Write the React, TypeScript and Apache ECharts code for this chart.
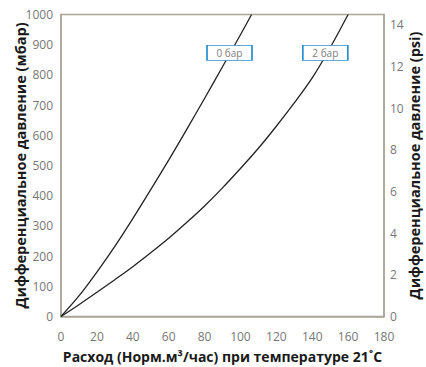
import React, { useEffect, useRef } from "react";
import * as echarts from "echarts";

const flow0 = [0, 10, 20, 30, 40, 50, 60, 70, 80, 90, 100, 106.2];
const dp0 = [0, 68, 147, 232, 324, 420, 518, 619, 722, 827, 933, 1000];
const flow2 = [0, 10, 20, 30, 40, 50, 60, 70, 80, 90, 100, 110, 120, 130, 140, 150, 160];
const dp2 = [0, 39, 80, 122, 165, 211, 259, 311, 366, 426, 490, 557, 630, 707, 790, 890, 1000];
const labelNames = ["0 бар", "2 бар"];
const labelCoords = [[93.9, 873], [147.3, 873]];
const xTicks = [0, 20, 40, 60, 80, 100, 120, 140, 160, 180];
const MBAR_PER_PSI = 68.9476;

const FONT = "'Open Sans', 'Noto Sans', sans-serif";

export default function App() {
  const ref = useRef<HTMLDivElement>(null);
  useEffect(() => {
    if (!ref.current) return;
    const chart = echarts.init(ref.current, null, { renderer: "svg" });
    const mk = (i: number) => ({
      symbol: "rect",
      symbolSize: [45, 15],
      itemStyle: { color: "#ffffff", borderColor: "#2a8fcf", borderWidth: 1 },
      label: {
        show: true,
        position: "inside",
        formatter: labelNames[i],
        color: "#808080",
        fontSize: 10,
        fontFamily: FONT,
      },
      data: [{ coord: labelCoords[i] }],
    });
    const labelStyle = { color: "#777777", fontSize: 12, fontFamily: FONT };
    const nameStyle = { color: "#1a1a1a", fontSize: 14, fontWeight: "bold", fontFamily: FONT };
    const yNameStyle = { ...nameStyle, fontSize: 14.5 };
    chart.setOption({
      animation: false,
      grid: {
        left: 61,
        right: 42,
        top: 14.5,
        bottom: 50.5,
        containLabel: false,
        outerBoundsMode: "none",
        show: true,
        borderColor: "#aba596",
        borderWidth: 1.5,
        backgroundColor: "transparent",
      },
      xAxis: {
        type: "value",
        min: xTicks[0],
        max: xTicks[xTicks.length - 1],
        interval: 20,
        axisLine: { show: true, lineStyle: { color: "#aba596", width: 1.5 } },
        axisTick: { show: false },
        splitLine: { show: false },
        axisLabel: { ...labelStyle, margin: 14, formatter: (v: number) => String(v) },
        name: "Расход (Норм.м³/час) при температуре 21˚C",
        nameLocation: "middle",
        nameGap: 33,
        nameMoveOverlap: false,
        nameTextStyle: nameStyle,
      },
      yAxis: [
        {
          type: "value",
          min: 0,
          max: 1000,
          interval: 100,
          position: "left",
          axisLine: { show: true, lineStyle: { color: "#aba596", width: 1.5 } },
          axisTick: { show: false },
          splitLine: { show: false },
          axisLabel: { ...labelStyle, margin: 8, formatter: (v: number) => String(v) },
          name: "Дифференциальное давление (мбар)",
          nameLocation: "middle",
          nameGap: 33,
          nameRotate: 90,
          nameMoveOverlap: false,
          nameTextStyle: yNameStyle,
        },
        {
          type: "value",
          min: 0,
          max: 1000 / MBAR_PER_PSI,
          interval: 2,
          position: "right",
          axisLine: { show: true, lineStyle: { color: "#aba596", width: 1.5 } },
          axisTick: { show: false },
          splitLine: { show: false },
          axisLabel: {
            ...labelStyle,
            margin: 6,
            formatter: (v: number) => (Math.abs(v - Math.round(v)) < 1e-6 ? String(Math.round(v)) : ""),
          },
          name: "Дифференциальное давление (psi)",
          nameLocation: "middle",
          nameGap: 23,
          nameRotate: 90,
          nameMoveOverlap: false,
          nameTextStyle: yNameStyle,
        },
      ],
      series: [
        {
          type: "line",
          smooth: 0.3,
          symbol: "none",
          lineStyle: { color: "#222222", width: 1.3 },
          data: flow0.map((x, i) => [x, dp0[i]]),
          markPoint: mk(0),
        },
        {
          type: "line",
          smooth: 0.3,
          symbol: "none",
          lineStyle: { color: "#222222", width: 1.3 },
          data: flow2.map((x, i) => [x, dp2[i]]),
          markPoint: mk(1),
        },
      ],
    });
    return () => chart.dispose();
  }, []);
  return (
    <div
      ref={ref}
      style={{ position: "fixed", left: 0, top: 0, width: 426, height: 367, background: "#fff" }}
    />
  );
}
